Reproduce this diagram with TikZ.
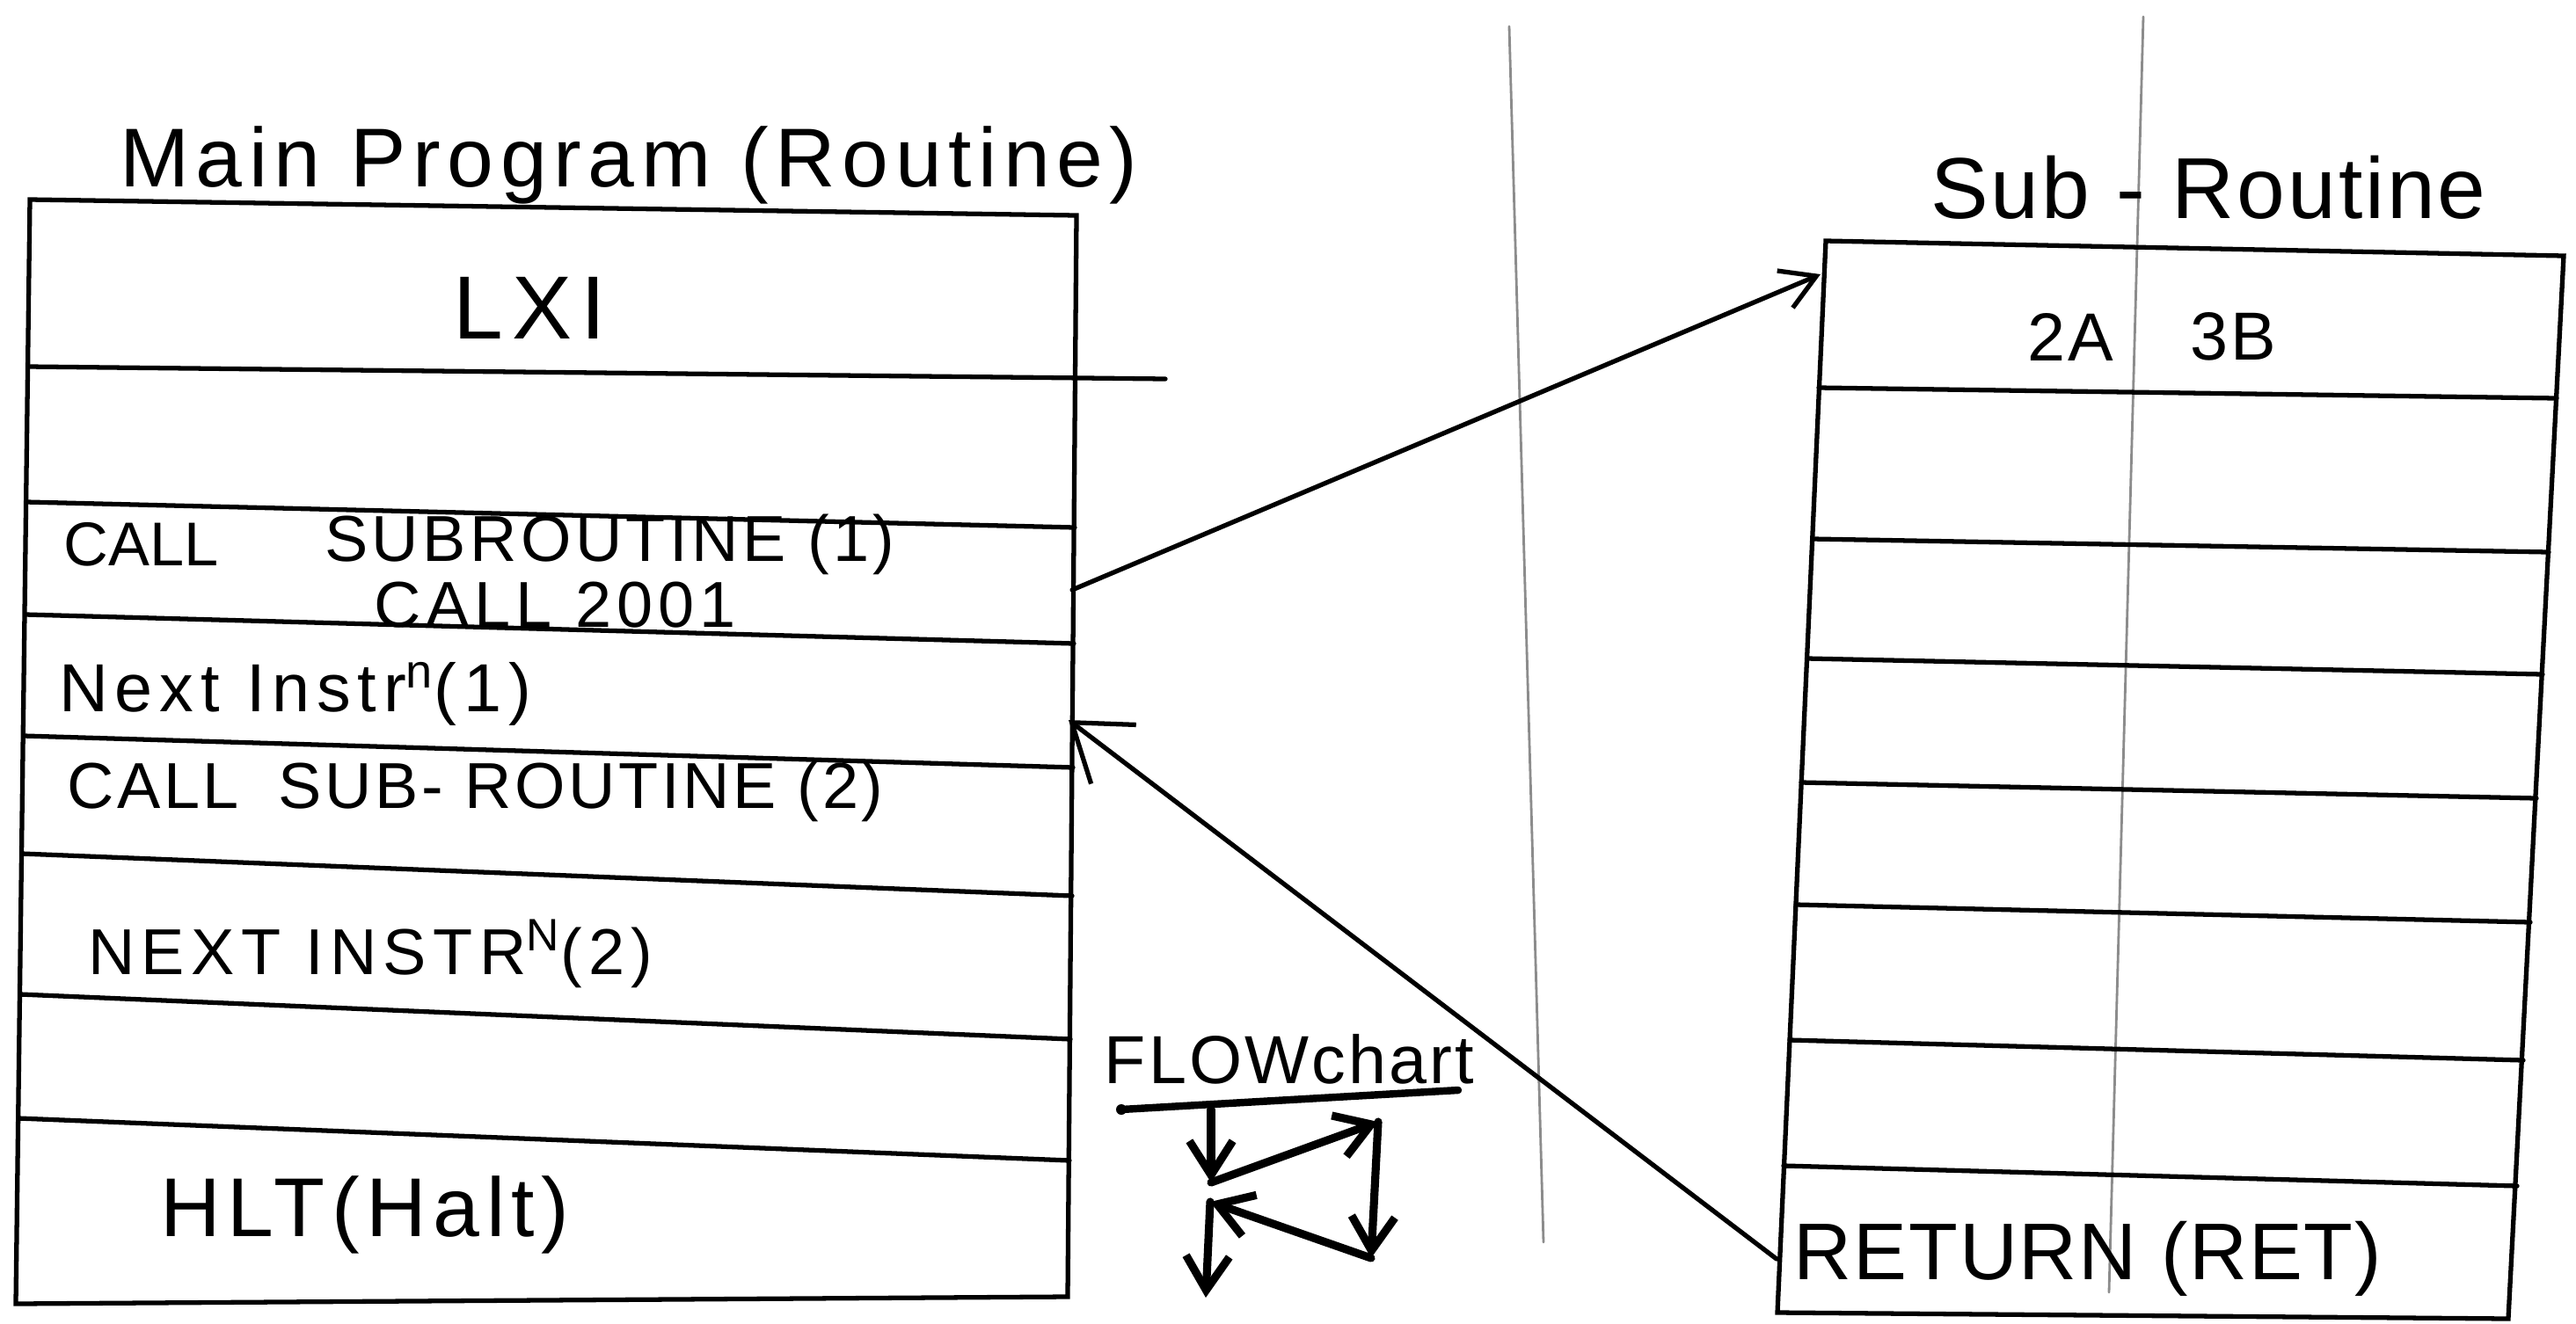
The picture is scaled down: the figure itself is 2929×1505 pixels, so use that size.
\documentclass[tikz,border=0pt]{standalone}
\usepackage{fontspec}
\setmainfont{Liberation Sans}
\usetikzlibrary{arrows.meta}

\begin{document}
\begin{tikzpicture}[x=0.01cm,y=-0.01cm,line width=1.5pt,line cap=round,
  hand/.style 2 args={font=\fontsize{#1}{#1}\selectfont\addfontfeatures{LetterSpace=#2}},
  callarrow/.style={-{Straight Barb[length=11pt,width=13pt]}},
  retarrow/.style={-{Straight Barb[length=17pt,width=24pt]}},
  flowline/.style={line width=2.6pt,-{Straight Barb[length=11pt,width=14pt]}}]

\useasboundingbox (0,0) rectangle (2929,1505);

% lines showing through from the back of the page
\draw[line width=0.8pt,black!45] (1716,30) -- (1755,1413);
\draw[line width=0.8pt,black!45] (2437,19) -- (2398,1470);

% main program
\node[hand={27}{8}] (maintitle) at (715,188) {Main Program (Routine)};
\draw (34,227) -- (1224,245) -- (1214,1475) -- (18,1483) -- cycle;
\draw (32,417) -- (1325,431);
\draw (30,571) -- (1222,600);
\draw (29,699) -- (1221,732);
\draw (27,837) -- (1220,873);
\draw (25,971) -- (1219,1019);
\draw (23,1131) -- (1217,1182);
\draw (21,1272) -- (1216,1320);

\node[hand={29}{10}] (lxi) at (602,350) {LXI};
\node[hand={20}{0},anchor=west] (callA) at (58,619) {CALL};
\node[hand={21}{6},anchor=west] (callB) at (355,619) {SUBROUTINE (1)};
\node[hand={21}{8}] (calladdr) at (631,688) {CALL 2001};
\node[hand={22}{10},anchor=west] (nextA) at (53,789) {Next\hspace{0.4em}Instr\textsuperscript{n}(1)};
\node[hand={21}{5},anchor=west] (callC) at (62,900) {CALL\hspace{0.6em}SUB- ROUTINE (2)};
\node[hand={21}{10},anchor=west] (nextB) at (86,1085) {NEXT INSTR\textsuperscript{N}(2)};
\node[hand={27}{8},anchor=west] (hlt) at (168,1382) {HLT(Halt)};

% sub-routine
\node[hand={28}{3}] (subtitle) at (2511,213) {Sub - Routine};
\draw (2076,274) -- (2915,291) -- (2852,1500) -- (2021,1493) -- cycle;
\draw (2068,441) -- (2907,453);
\draw (2061,613) -- (2898,628);
\draw (2055,749) -- (2891,767);
\draw (2048,890) -- (2884,908);
\draw (2042,1029) -- (2877,1049);
\draw (2035,1183) -- (2869,1206);
\draw (2028,1326) -- (2862,1349);

\node[hand={22}{4}] (lowbyte) at (2354,383) {2A};
\node[hand={22}{4}] (highbyte) at (2539,383) {3B};
\node[hand={26}{2}] (ret) at (2374,1432) {RETURN (RET)};

% call and return
\coordinate (callout) at (1219,671);
\coordinate (subentry) at (2070,312);
\coordinate (retout) at (2020,1432);
\coordinate (retin) at (1215,819);
\draw[callarrow] (callout) -- (subentry);
\draw[retarrow] (retout) -- (retin);

% flowchart
\node[hand={22}{4}] (flow) at (1466,1205) {FLOWchart};
\draw[line width=2.4pt] (1275,1262) -- (1658,1240);
\fill (1275,1262) circle (6);
\coordinate (f1) at (1377,1262);
\coordinate (f2) at (1377,1345);
\coordinate (f3) at (1567,1276);
\coordinate (f4) at (1559,1431);
\coordinate (f5) at (1376,1367);
\coordinate (f6) at (1371,1476);
\draw[flowline] (f1) -- (f2);
\draw[flowline] (f2) -- (f3);
\draw[flowline] (f3) -- (f4);
\draw[flowline] (f4) -- (f5);
\draw[flowline] (f5) -- (f6);

\end{tikzpicture}
\end{document}
